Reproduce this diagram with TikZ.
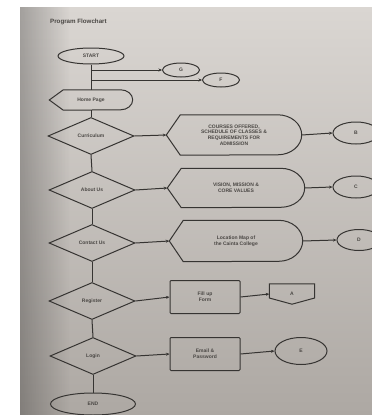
\documentclass[tikz,border=0pt]{standalone}
\usepackage{fontspec}
\setmainfont{Liberation Sans}
\usetikzlibrary{shapes.geometric,arrows.meta,calc,fadings}
\definecolor{paperTop}{HTML}{DAD6D2}
\definecolor{paperBot}{HTML}{ADA8A3}
\definecolor{ink}{HTML}{363432}
\definecolor{txt}{HTML}{4A4744}
\tikzfading[name=edgeshadow, left color=transparent!75, right color=transparent!100]
\tikzset{
  line/.style={draw=ink, line width=1pt},
  flow/.style={line, -{Stealth[length=3.5pt,width=3pt]}},
  lbl/.style={text=txt, font=\fontsize{5}{5.8}\selectfont\bfseries, align=center, inner sep=0pt},
  term/.style={ellipse, line, lbl, minimum width=#1, minimum height=16pt},
  conn/.style={ellipse, line, lbl, minimum width=37pt, minimum height=14pt},
  decision/.style={diamond, line, lbl, minimum width=86pt, minimum height=37pt},
  process/.style={rectangle, line, lbl, minimum width=70pt, minimum height=33pt, rounded corners=1pt},
  ghost/.style={rectangle, lbl, minimum width=#1},
}
\begin{document}
\begin{tikzpicture}[x=1pt,y=-1pt]
  \useasboundingbox (0,0) rectangle (372,415);
  \clip (0,0) rectangle (372,415);
  % photographed sheet
  \fill[white] (0,0) rectangle (372,415);
  \shade[top color=paperTop, bottom color=paperBot] (20,7) rectangle (372,415);
  \fill[black, path fading=edgeshadow] (20,7) rectangle (70,415);

  \node[lbl, font=\fontsize{6.2}{7}\selectfont\bfseries, anchor=west] (title) at (50,22) {Program Flowchart};

  % main column
  \node[term=66pt] (start) at (91,56) {START};
  \node[ghost=83pt, minimum height=20pt] (home) at (91,100) {Home Page};
  \node[decision] (cur) at (91,136) {Curriculum};
  \node[decision] (about) at (92,190) {About Us};
  \node[decision] (cont) at (92,243) {Contact Us};
  \node[decision] (reg) at (92,301) {Register};
  \node[decision] (log) at (93,356) {Login};
  \node[term=85pt, minimum height=22pt] (end) at (93,404) {END};

  % display pages
  \node[ghost=135pt, minimum height=40pt] (curd) at (234,135)
    {COURSES OFFERED,\\SCHEDULE OF CLASSES \&\\REQUIREMENTS FOR\\ADMISSION};
  \node[ghost=137pt, minimum height=39pt] (aboutd) at (236,188)
    {VISION, MISSION \&\\CORE VALUES};
  \node[ghost=133pt, minimum height=41pt] (contd) at (236,241)
    {Location Map of\\the Cainta College};

  % outlines of the display shapes: pointed left end, round right end
  \foreach \n/\h/\r in {home/10/12, curd/20/24, aboutd/19.5/24, contd/20.5/24}{
    \draw[line] ([xshift=14pt]\n.north west) -- ([xshift=-\r pt]\n.north east)
      arc[start angle=90, end angle=-90, x radius=\r pt, y radius=\h pt]
      -- ([xshift=14pt]\n.south west) -- (\n.west) -- cycle;
  }

  % processes
  \node[process] (form) at (205,297) {Fill up\\Form};
  \node[process] (cred) at (205,354) {Email \&\\Password};

  % connectors
  \node[conn] (cg) at (181,70) {G};
  \node[conn] (cf) at (221,80) {F};
  \node[conn, minimum width=46pt, minimum height=22pt] (cb) at (356,133) {B};
  \node[conn, minimum width=46pt, minimum height=22pt] (cc) at (356,187) {C};
  \node[conn, minimum width=44pt, minimum height=21pt] (cd) at (359,240) {D};
  \node[conn, minimum width=52pt, minimum height=27pt] (ce) at (301,351) {E};

  % off-page connector
  \node[ghost=45pt, minimum height=20pt] (offa) at (292,294) {A};
  \draw[line] (offa.north west) -- (offa.north east) -- ([yshift=-4pt]offa.east)
    -- (offa.south) -- ([yshift=-4pt]offa.west) -- cycle;

  % trunk
  \coordinate (bg) at (start.south |- cg);
  \coordinate (bf) at (start.south |- cf);
  \draw[line] (start.south) -- (home.north);
  \draw[flow] (bg) -- (cg);
  \draw[flow] (bf) -- (cf);
  \draw[line] (home.south) -- (cur.north);
  \draw[line] (cur.south) -- (about.north);
  \draw[line] (about.south) -- (cont.north);
  \draw[line] (cont.south) -- (reg.north);
  \draw[line] (reg.south) -- (log.north);
  \draw[line] (log.south) -- (end.north);

  % branches
  \draw[flow] (cur.east) -- (curd.west);
  \draw[flow] (about.east) -- (aboutd.west);
  \draw[flow] (cont.east) -- (contd.west);
  \draw[flow] (reg.east) -- (form.west);
  \draw[flow] (log.east) -- (cred.west);
  \draw[flow] (curd.east) -- (cb.west);
  \draw[flow] (aboutd.east) -- (cc.west);
  \draw[flow] (contd.east) -- (cd.west);
  \draw[flow] (form.east) -- (offa.west);
  \draw[flow] (cred.east) -- (ce.west);
\end{tikzpicture}
\end{document}
